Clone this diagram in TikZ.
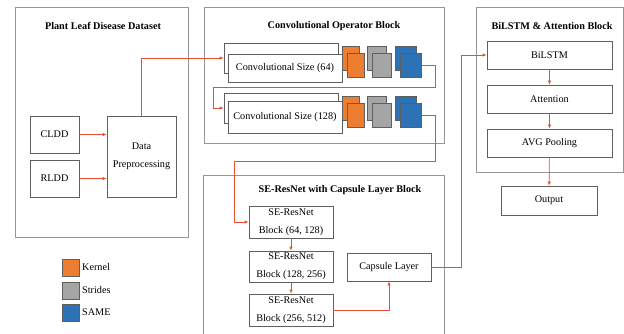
\documentclass[tikz,border=0pt]{standalone}
\usepackage{fontspec}
\setmainfont{Liberation Serif}
\usetikzlibrary{arrows.meta}
\definecolor{flow}{RGB}{232,78,48}
\definecolor{kern}{RGB}{237,125,49}
\definecolor{strd}{RGB}{165,165,165}
\definecolor{same}{RGB}{46,114,182}
\definecolor{rim}{RGB}{150,150,150}
\definecolor{edge}{RGB}{95,95,95}
\tikzset{
  panel/.style={draw=rim, line width=0.8pt, fill=white},
  title/.style={font=\fontsize{10.2}{12}\selectfont\bfseries},
  unit/.style={draw=edge, line width=0.7pt, fill=white, inner sep=0pt, align=center,
    font=\fontsize{10.2}{18}\selectfont},
  sq/.style={draw=edge, line width=0.6pt},
  lbl/.style={font=\fontsize{10.2}{12}\selectfont, anchor=west, inner sep=0pt},
  flowline/.style={draw=flow, line width=0.7pt, -{Latex[length=4pt,width=3.5pt]}}
}
\begin{document}
\begin{tikzpicture}[x=1pt,y=-1pt]
\useasboundingbox (0,0) rectangle (624,334);
\clip (0,0) rectangle (624,334);
\fill[white] (0,0) rectangle (624,334);

% ---------- dataset panel ----------
\draw[panel] (15,7) rectangle (188,237);
\node[title] (t1) at (103,26) {Plant Leaf Disease Dataset};
\node[unit, minimum width=49pt, minimum height=37pt] (cldd) at (54.5,134.5) {CLDD};
\node[unit, minimum width=49pt, minimum height=37pt] (rldd) at (54.5,178.5) {RLDD};
\node[unit, minimum width=69pt, minimum height=81pt] (prep) at (141.5,156.5) {Data\\Preprocessing};

% ---------- convolutional panel ----------
\draw[panel] (204,7) rectangle (444,143);
\node[title] (t2) at (334,26) {Convolutional Operator Block};

\node[unit, minimum width=114pt, minimum height=30pt] (c1back) at (281,58) {};
\node[unit, minimum width=114pt, minimum height=28pt] (c1) at (285,68) {Convolutional Size (64)};
\node[unit, minimum width=114pt, minimum height=30pt] (c2back) at (281,108) {};
\node[unit, minimum width=114pt, minimum height=32pt] (c2) at (285,117) {Convolutional Size (128)};

% kernel / strides / padding tiles, back and front
\foreach \r/\top in {1/53, 2/103} {
  \draw[sq, fill=kern] (342,\top-7) rectangle ++(17,24);
  \draw[sq, fill=kern] (347,\top) rectangle ++(17,24);
  \draw[sq, fill=strd] (367,\top-7) rectangle ++(19,24);
  \draw[sq, fill=strd] (372,\top) rectangle ++(19,24);
  \draw[sq, fill=same] (395,\top-7) rectangle ++(21,24);
  \node[sq, fill=same, minimum width=21pt, minimum height=24pt, inner sep=0pt, anchor=north west]
    (s\r) at (400,\top) {};
}

% ---------- SE-ResNet panel ----------
\draw[panel] (203,175) rectangle (444,340);
\node[title] (t3) at (340,190) {SE-ResNet with Capsule Layer Block};
\node[unit, minimum width=84pt, minimum height=32pt] (se1) at (291,222) {SE-ResNet\\Block (64, 128)};
\node[unit, minimum width=84pt, minimum height=31pt] (se2) at (291,266.5) {SE-ResNet\\Block (128, 256)};
\node[unit, minimum width=84pt, minimum height=32pt] (se3) at (291,310) {SE-ResNet\\Block (256, 512)};
\node[unit, minimum width=84pt, minimum height=28pt] (caps) at (389,267) {Capsule Layer};

% ---------- BiLSTM panel ----------
\draw[panel] (476,7) rectangle (623,172);
\node[title] (t4) at (552,26) {BiLSTM \& Attention Block};
\node[unit, minimum width=125pt, minimum height=28pt] (lstm) at (549.5,55) {BiLSTM};
\node[unit, minimum width=125pt, minimum height=28pt] (att) at (549.5,99) {Attention};
\node[unit, minimum width=125pt, minimum height=28pt] (avg) at (549.5,143) {AVG Pooling};
\node[unit, minimum width=96pt, minimum height=29pt] (out) at (549,200.5) {Output};

% ---------- legend ----------
\node[sq, fill=kern, minimum width=17pt, minimum height=17pt, inner sep=0pt] (lk) at (70.5,267.5) {};
\node[sq, fill=strd, minimum width=17pt, minimum height=17pt, inner sep=0pt] (ls) at (70.5,290.5) {};
\node[sq, fill=same, minimum width=17pt, minimum height=17pt, inner sep=0pt] (lp) at (70.5,312.5) {};
\node[lbl] (tk) at (82,267.5) {Kernel};
\node[lbl] (ts) at (82,290.5) {Strides};
\node[lbl] (tp) at (82,312.5) {SAME};

% ---------- connectors ----------
\draw[flowline] (cldd.east) -- (cldd.east -| prep.west);
\draw[flowline] (rldd.east) -- (rldd.east -| prep.west);
\draw[flowline] (prep.north) |- (c1back.west);
\coordinate (r1) at (435,87);
\draw[flowline] (s1.east) -| (r1) -- (213,87) |- (c2back.west);
\coordinate (r2) at (435,161);
\draw[flowline] (s2.east) -| (r2) -- (234,161) |- (se1.west);
\draw[flowline] (se1) -- (se2);
\draw[flowline] (se2) -- (se3);
\draw[flowline] (se3.east) -| (caps.south);
\coordinate (r3) at (461,267);
\draw[flowline] (caps.east) -- (r3) |- (lstm.west);
\draw[flowline] (lstm) -- (att);
\draw[flowline] (att) -- (avg);
\draw[flowline] (avg) -- (out);
\end{tikzpicture}
\end{document}
